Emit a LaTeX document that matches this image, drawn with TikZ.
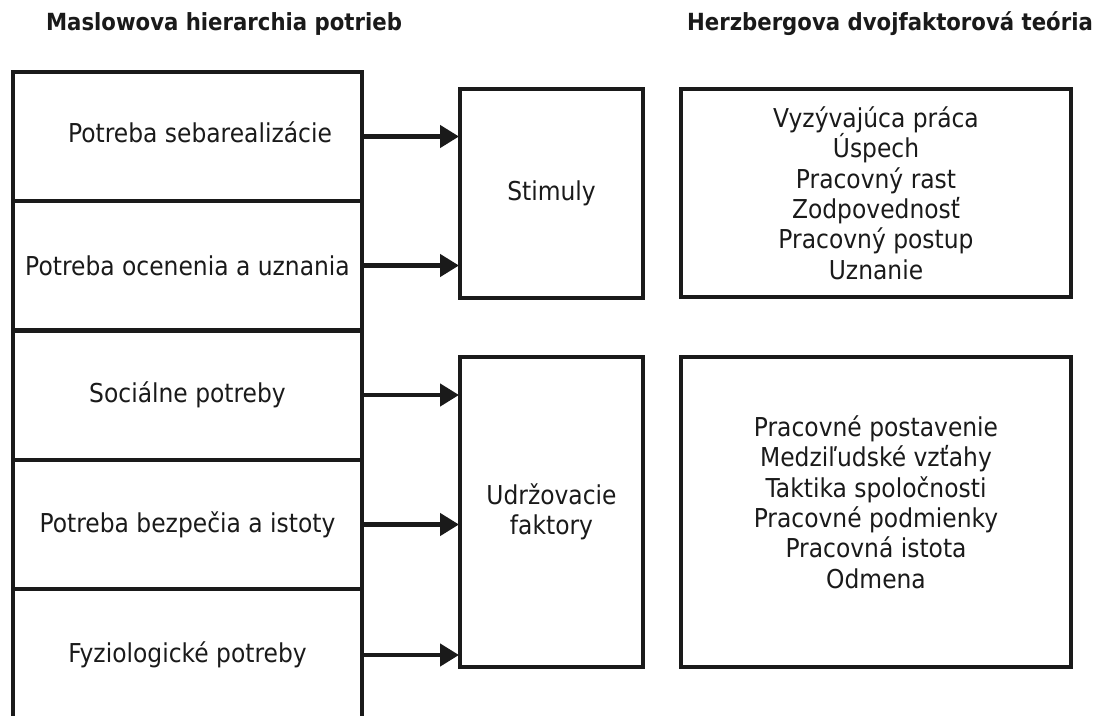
\documentclass[tikz,border=0pt]{standalone}
\usepackage{fontspec}
\setmainfont{DejaVu Sans}[FakeStretch=0.9]
\usetikzlibrary{arrows.meta}
\definecolor{ink}{HTML}{1A1A1A}
\begin{document}
\begin{tikzpicture}[x=1pt,y=-1pt,
  box/.style={draw=ink, line width=4pt, rectangle, inner sep=0pt, align=center, text=ink,
              font=\fontsize{26}{30.4}\selectfont},
  row/.style={box, minimum width=349pt, minimum height=129pt},
  mid/.style={box, minimum width=183pt},
  right/.style={box, minimum width=390pt},
  txt/.style={align=center, text=ink, inner sep=0pt, font=\fontsize{26}{30.4}\selectfont},
  ttl/.style={text=ink, inner sep=0pt, font=\bfseries\fontsize{23.6}{28}\selectfont},
  arr/.style={draw=ink, line width=4.5pt, -{Triangle[length=19pt,width=22pt]}, shorten >=-1pt}
]
\useasboundingbox (0,0) rectangle (1108,715);
\fill[white] (0,0) rectangle (1108,715);

% titles
\node[ttl] (t1) at (224,24) {Maslowova hierarchia potrieb};
\node[ttl] (t2) at (890,24) {Herzbergova dvojfaktorová teória};

% Maslow rows
\node[row] (r1) at (187.5,136.5) {};
\node[txt] (l1) at (200,132) {Potreba sebarealizácie};
\node[row] (r2) at (187.5,265.5) {Potreba ocenenia a uznania};
\node[row] (r3) at (187.5,395) {Sociálne potreby};
\node[row] (r4) at (187.5,524.5) {Potreba bezpečia a istoty};
\node[row, minimum height=132pt] (r5) at (187.5,655) {};
\node[txt] (l5) at (187.5,655) {Fyziologické potreby};

% middle boxes
\node[mid, minimum height=209pt] (stim) at (551.5,193.5) {Stimuly};
\node[mid, minimum height=310pt] (udr) at (551.5,512) {Udržovacie\\faktory};

% right boxes
\node[right, minimum height=208pt] (mot) at (876,193) {Vyzývajúca práca\\Úspech\\Pracovný rast\\Zodpovednosť\\Pracovný postup\\Uznanie};
\node[right, minimum height=310pt] (hyg) at (876,512) {};
\node[txt] (hygt) at (876,502) {Pracovné postavenie\\Medziľudské vzťahy\\Taktika spoločnosti\\Pracovné podmienky\\Pracovná istota\\Odmena};

% arrows
\draw[arr] (r1.east) -- (r1.east -| stim.west);
\draw[arr] (r2.east) -- (r2.east -| stim.west);
\draw[arr] (r3.east) -- (r3.east -| udr.west);
\draw[arr] (r4.east) -- (r4.east -| udr.west);
\draw[arr] (r5.east) -- (r5.east -| udr.west);
\end{tikzpicture}
\end{document}
